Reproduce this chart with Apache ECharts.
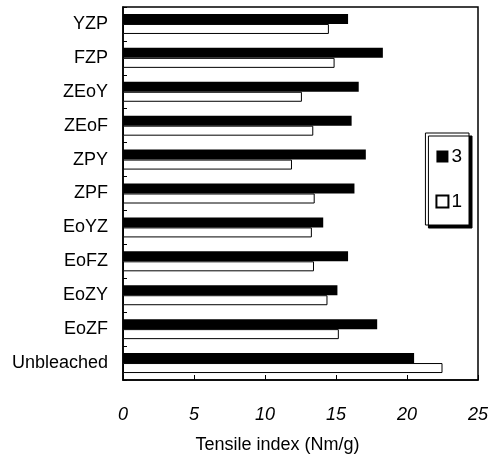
<!DOCTYPE html>
<html><head><meta charset="utf-8">
<script src="https://cdn.jsdelivr.net/npm/echarts@6/dist/echarts.min.js"></script>
<style>html,body{margin:0;padding:0;background:#fff}#c{width:492px;height:459px}</style>
</head><body><div id="c"></div>
<script>
const categories = ['YZP','FZP','ZEoY','ZEoF','ZPY','ZPF','EoYZ','EoFZ','EoZY','EoZF','Unbleached'];
const series3 = [15.85, 18.3, 16.6, 16.1, 17.1, 16.3, 14.1, 15.85, 15.1, 17.9, 20.5];
const series1 = [14.5, 14.9, 12.6, 13.4, 11.9, 13.5, 13.3, 13.45, 14.4, 15.2, 22.5];
const xTicks = [0, 5, 10, 15, 20, 25];
const font = 'Liberation Sans, Arial, sans-serif';
const chart = echarts.init(document.getElementById('c'));
chart.setOption({
  animation: false,
  backgroundColor: '#fff',
  grid: {left: 123, right: 14, top: 7, bottom: 78, show: true, borderColor: '#000', borderWidth: 1.5, backgroundColor: 'transparent'},
  legend: {
    orient: 'vertical', right: 23, top: 133,
    data: ['3', '1'],
    icon: 'rect', itemWidth: 12, itemHeight: 12, itemGap: 26,
    padding: [14, 7, 14, 10],
    backgroundColor: '#fff', borderColor: '#000', borderWidth: 1,
    shadowColor: '#000', shadowOffsetX: 3, shadowOffsetY: 3, shadowBlur: 0,
    textStyle: {fontFamily: font, fontSize: 19, color: '#000', padding: [0, 0, 0, -2]}
  },
  xAxis: {
    type: 'value', min: 0, max: 25, interval: 5,
    name: 'Tensile index (Nm/g)', nameLocation: 'middle', nameGap: 56,
    nameTextStyle: {fontFamily: font, fontSize: 18, color: '#000', padding: [0, 46, 0, 0]},
    axisLine: {show: true, lineStyle: {color: '#000', width: 1.5}},
    axisTick: {show: true, inside: true, length: 5, lineStyle: {color: '#000'}},
    splitLine: {show: false},
    axisLabel: {margin: 26, fontFamily: font, fontSize: 18, fontStyle: 'italic', color: '#000',
      formatter: v => xTicks.includes(v) ? String(v) : ''}
  },
  yAxis: {
    type: 'category', inverse: true, data: categories,
    axisLine: {show: true, lineStyle: {color: '#000', width: 1.5}},
    axisTick: {show: true, inside: true, length: 4, lineStyle: {color: '#000'}},
    axisLabel: {margin: 15, fontFamily: font, fontSize: 18, color: '#000'}
  },
  series: [
    {name: '3', type: 'bar', data: series3, barWidth: 10, barGap: '0%',
     itemStyle: {color: '#000', borderColor: '#000', borderWidth: 0}},
    {name: '1', type: 'bar', data: series1, barWidth: 10, barGap: '0%',
     itemStyle: {color: '#fff', borderColor: '#000', borderWidth: 1}}
  ]
});
</script></body></html>
